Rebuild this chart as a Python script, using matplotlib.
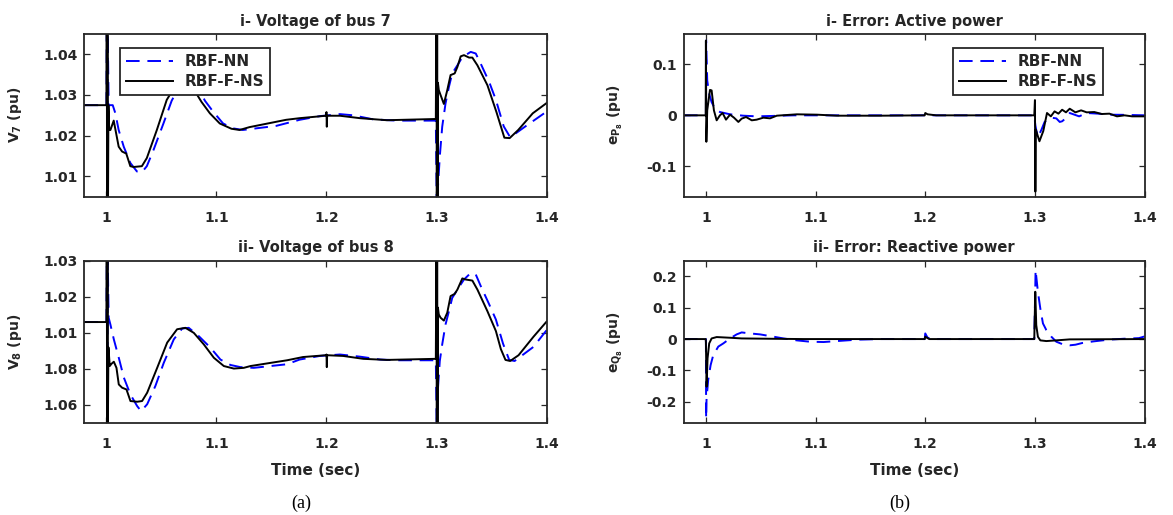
import numpy as np
import matplotlib
matplotlib.use('Agg')
import matplotlib.pyplot as plt

plt.rcParams['font.family'] = ['DejaVu Sans']
plt.rcParams['font.weight'] = 'bold'
plt.rcParams['mathtext.fontset'] = 'dejavusans'
plt.rcParams['mathtext.default'] = 'bf'

# ---- data ----
# Voltage of bus 7
t7_nn = [0.98, 1.0, 1.0004, 1.0008, 1.0012, 1.002, 1.0057, 1.0081, 1.0111, 1.0157, 1.0217, 1.0277,
         1.0322, 1.0367, 1.0428, 1.0518, 1.0593, 1.067, 1.075, 1.083, 1.0895, 1.097, 1.106, 1.115,
         1.124, 1.133, 1.1542, 1.1756, 1.1939, 1.2122, 1.2244, 1.2427, 1.264, 1.2994, 1.3003,
         1.3012, 1.303, 1.3052, 1.3082, 1.3113, 1.3143, 1.319, 1.3235, 1.3311, 1.3357, 1.3402,
         1.3479, 1.354, 1.3611, 1.367, 1.3809, 1.4]
v7_nn = [1.0275, 1.0275, 1.055, 1.0, 1.045, 1.0275, 1.0275, 1.0255, 1.0214, 1.0173, 1.0133, 1.0112,
         1.011, 1.0125, 1.0165, 1.023, 1.0286, 1.0325, 1.034, 1.032, 1.0286, 1.0259, 1.023, 1.0218,
         1.0214, 1.0217, 1.0224, 1.0239, 1.0248, 1.0253, 1.025, 1.024, 1.0237, 1.0237, 1.0,
         1.0068, 1.0149, 1.0222, 1.0279, 1.032, 1.0353, 1.0373, 1.0393, 1.0406, 1.0402, 1.0377,
         1.0332, 1.0288, 1.0223, 1.0196, 1.0223, 1.0259]
t7_fns = [0.98, 1.0, 1.0003, 1.0006, 1.0009, 1.0012, 1.0018, 1.0025, 1.0036, 1.0066, 1.0111, 1.0142,
          1.018, 1.0217, 1.0247, 1.0322, 1.0367, 1.0458, 1.0548, 1.062, 1.07, 1.078, 1.0864, 1.094,
          1.103, 1.1136, 1.121, 1.13, 1.1633, 1.1756, 1.1995, 1.2, 1.2003, 1.2006, 1.2122, 1.2305,
          1.2549, 1.2994, 1.3, 1.3003, 1.3006, 1.3009, 1.3013, 1.3021, 1.3037, 1.3067, 1.3098,
          1.3128, 1.3165, 1.319, 1.322, 1.325, 1.3296, 1.3326, 1.3372, 1.3463, 1.3545, 1.3617,
          1.3665, 1.3743, 1.3875, 1.4]
v7_fns = [1.0275, 1.0275, 1.06, 0.99, 1.05, 0.99, 1.0275, 1.0214, 1.0214, 1.0237, 1.0173, 1.0161,
          1.0156, 1.0125, 1.0123, 1.0125, 1.0145, 1.0214, 1.0288, 1.032, 1.0335, 1.032, 1.0283, 1.0255,
          1.023, 1.0217, 1.0214, 1.0221, 1.0239, 1.0243, 1.0249, 1.0258, 1.0222, 1.0249, 1.0249, 1.0243,
          1.0238, 1.0241, 1.06, 0.99, 1.05, 0.99, 1.033, 1.0312, 1.03, 1.0278, 1.0312,
          1.0349, 1.0353, 1.0369, 1.0395, 1.0398, 1.0392, 1.0392, 1.0373, 1.0324, 1.0258, 1.0195,
          1.0194, 1.0214, 1.0255, 1.028]

# Voltage of bus 8
t8_nn = [0.98, 1.0, 1.0004, 1.0008, 1.0012, 1.002, 1.0036, 1.0067, 1.0112, 1.0158, 1.0218, 1.0279,
         1.0315, 1.037, 1.0445, 1.0521, 1.0612, 1.0688, 1.0748, 1.0839, 1.0945, 1.1036, 1.1127,
         1.1218, 1.1339, 1.1642, 1.1756, 1.1939, 1.2122, 1.2305, 1.2488, 1.264, 1.2994, 1.3003,
         1.3012, 1.303, 1.3052, 1.3082, 1.3113, 1.3143, 1.319, 1.325, 1.3311, 1.3357, 1.3402,
         1.3479, 1.354, 1.3605, 1.3661, 1.371, 1.378, 1.3881, 1.4]
v8_nn = [1.013, 1.013, 1.035, 0.98, 1.03, 1.0142, 1.0123, 1.0082, 1.0031, 0.9976, 0.9929, 0.9897,
         0.9883, 0.9902, 0.9953, 1.0017, 1.0082, 1.0112, 1.0114, 1.0091, 1.0059, 1.0026, 1.0011,
         1.0005, 1.0003, 1.0013, 1.0026, 1.0036, 1.004, 1.0034, 1.0026, 1.0024, 1.0024, 0.98,
         0.994, 1.0022, 1.0068, 1.0123, 1.016, 1.0197, 1.022, 1.0248, 1.0266, 1.0262, 1.023,
         1.0179, 1.0137, 1.007, 1.0025, 1.0022, 1.0038, 1.0061, 1.0107]
t8_fns = [0.98, 1.0, 1.0003, 1.0006, 1.0009, 1.0012, 1.0018, 1.003, 1.0045, 1.0067, 1.0091, 1.0112,
          1.0142, 1.0182, 1.0218, 1.0279, 1.0324, 1.037, 1.0461, 1.0552, 1.0642, 1.0718, 1.0794,
          1.0885, 1.0976, 1.1067, 1.1158, 1.1248, 1.1309, 1.1642, 1.1787, 1.1995, 1.2, 1.2003,
          1.2006, 1.2152, 1.2335, 1.2549, 1.2994, 1.3, 1.3003, 1.3006, 1.3009, 1.3013, 1.3021,
          1.3037, 1.3067, 1.3098, 1.3128, 1.3165, 1.319, 1.3235, 1.3265, 1.3326, 1.3372, 1.3463,
          1.354, 1.3585, 1.3627, 1.367, 1.3746, 1.3881, 1.4]
v8_fns = [1.013, 1.013, 1.04, 0.98, 1.035, 0.98, 1.006, 1.0008, 1.0014, 1.002, 1.0003, 0.9957,
          0.9948, 0.9943, 0.9911, 0.9909, 0.9911, 0.9934, 1.0003, 1.0073, 1.011, 1.0114, 1.01,
          1.0068, 1.0031, 1.0008, 1.0001, 1.0003, 1.0008, 1.0024, 1.0033, 1.0038, 1.004, 1.0005,
          1.0038, 1.0036, 1.0028, 1.0025, 1.0028, 1.04, 0.98, 1.035, 0.98, 1.017, 1.0151,
          1.0142, 1.0134, 1.0156, 1.0202, 1.0208, 1.022, 1.0251, 1.0248, 1.0245, 1.022, 1.016,
          1.0105, 1.0055, 1.0025, 1.0022, 1.0038, 1.0089, 1.0131]

# Error: active power
tp_nn = [0.98, 1.0, 1.0002, 1.0012, 1.003, 1.0052, 1.0082, 1.0128, 1.022, 1.0341, 1.0463, 1.0585,
         1.08, 1.2994, 1.3004, 1.3012, 1.3027, 1.3058, 1.3088, 1.3119, 1.3149, 1.3195, 1.3226,
         1.3248, 1.3287, 1.3317, 1.3403, 1.3472, 1.3576, 1.3679, 1.38, 1.4]
ep_nn = [0.0, 0.0, 0.147, 0.0686, 0.042, 0.026, 0.013, 0.0065, 0.002, -0.0007, -0.002, -0.0013,
         0.0, 0.0, -0.02, -0.029, -0.0425, -0.029, -0.013, -0.0085, -0.0046, -0.006, -0.013,
         -0.0117, -0.0046, 0.0046, -0.002, 0.0046, 0.0033, 0.0013, 0.001, 0.0]
tp_fns = [0.98, 0.9998, 1.0, 1.0004, 1.0012, 1.0037, 1.0052, 1.0073, 1.0098, 1.0128, 1.0152, 1.0183,
          1.022, 1.0256, 1.0296, 1.0326, 1.0366, 1.0418, 1.0463, 1.0524, 1.0585, 1.0646, 1.083,
          1.1012, 1.1195, 1.159, 1.1995, 1.2, 1.2021, 1.21, 1.2994, 1.3, 1.3004, 1.3008, 1.3041,
          1.3076, 1.311, 1.3145, 1.3179, 1.3214, 1.3248, 1.3283, 1.3317, 1.3369, 1.3421, 1.3472,
          1.3541, 1.361, 1.3679, 1.3748, 1.3817, 1.3886, 1.4]
ep_fns = [0.0, 0.0, 0.147, -0.052, 0.0098, 0.05, 0.049, 0.0098, -0.0098, 0.0, 0.0046, -0.0085,
          0.0013, -0.0046, -0.013, -0.0065, -0.0033, -0.0098, -0.0085, -0.0046, -0.0059, -0.0007, 0.002,
          0.0013, -0.0007, -0.0007, 0.0, 0.0046, 0.002, 0.0, 0.0, 0.03, -0.15, -0.028, -0.051,
          -0.031, 0.0046, -0.002, 0.0078, 0.0033, 0.011, 0.0059, 0.013, 0.0059, 0.0098, 0.0059,
          0.0065, 0.0026, 0.0033, -0.002, 0.0, -0.002, -0.002]

# Error: reactive power
tq_nn = [0.98, 1.0, 1.0002, 1.0006, 1.0021, 1.0043, 1.0067, 1.0113, 1.0159, 1.022, 1.028, 1.0326,
         1.0402, 1.0494, 1.0585, 1.0707, 1.0829, 1.0951, 1.1073, 1.1195, 1.1378, 1.159, 1.1995,
         1.2, 1.2021, 1.21, 1.2994, 1.3006, 1.3027, 1.3049, 1.3073, 1.3104, 1.315, 1.3195, 1.3256,
         1.3317, 1.337, 1.3431, 1.3534, 1.3672, 1.381, 1.3948, 1.4]
eq_nn = [0.0, 0.0, -0.253, -0.189, -0.13, -0.083, -0.051, -0.024, -0.0138, 0.002, 0.0149, 0.0212,
         0.018, 0.0149, 0.0095, 0.002, -0.0042, -0.0085, -0.0095, -0.0064, -0.002, 0.0, 0.0,
         0.018, 0.0042, 0.0, 0.0, 0.22, 0.151, 0.0976, 0.05, 0.0286, 0.0074, -0.0085, -0.017,
         -0.02, -0.018, -0.0126, -0.0074, -0.002, 0.001, 0.003, 0.0084]
tq_fns = [0.98, 0.9998, 1.0, 1.0006, 1.0015, 1.003, 1.0052, 1.0098, 1.022, 1.0326, 1.0585, 1.089,
          1.1995, 1.2, 1.2036, 1.2994, 1.3003, 1.3012, 1.3027, 1.3049, 1.3104, 1.3195, 1.3317, 1.4]
eq_fns = [0.0, 0.0, -0.01, -0.152, -0.0615, -0.0138, 0.002, 0.0064, 0.0042, 0.002, 0.001, 0.0,
          0.0, 0.0074, 0.0, 0.0, 0.151, 0.0446, 0.0074, -0.0042, -0.0064, -0.0042, -0.001, 0.0]

x_ticks = [1.0, 1.1, 1.2, 1.3, 1.4]
x_labels = ['1', '1.1', '1.2', '1.3', '1.4']
v7_ticks = [1.01, 1.02, 1.03, 1.04]
v7_labels = ['1.01', '1.02', '1.03', '1.04']
v8_ticks = [0.99, 1.00, 1.01, 1.02, 1.03]
v8_labels = ['1.06', '1.08', '1.01', '1.02', '1.03']
ep_ticks = [-0.1, 0, 0.1]
ep_labels = ['-0.1', '0', '0.1']
eq_ticks = [-0.2, -0.1, 0, 0.1, 0.2]
eq_labels = ['-0.2', '-0.1', '0', '0.1', '0.2']

dark = '#262626'
fig = plt.figure(figsize=(11.73, 5.15), dpi=100)

ax1 = fig.add_axes([0.0720, 0.6181, 0.3939, 0.3159])
ax2 = fig.add_axes([0.0720, 0.1786, 0.3939, 0.3151])
ax3 = fig.add_axes([0.5831, 0.6181, 0.3927, 0.3159])
ax4 = fig.add_axes([0.5831, 0.1786, 0.3927, 0.3151])


def draw(ax, t_nn, y_nn, t_fns, y_fns):
    ax.plot(t_nn, y_nn, color='#0000ff', lw=1.4, dashes=(7, 4), label='RBF-NN')
    ax.plot(t_fns, y_fns, color='black', lw=1.4, label='RBF-F-NS')


draw(ax1, t7_nn, v7_nn, t7_fns, v7_fns)
draw(ax2, t8_nn, v8_nn, t8_fns, v8_fns)
draw(ax3, tp_nn, ep_nn, tp_fns, ep_fns)
draw(ax4, tq_nn, eq_nn, tq_fns, eq_fns)

ax1.set_ylim(1.005, 1.045)
ax2.set_ylim(0.985, 1.03)
ax3.set_ylim(-0.16, 0.16)
ax4.set_ylim(-0.268, 0.25)

ax1.set_yticks(v7_ticks, v7_labels)
ax2.set_yticks(v8_ticks, v8_labels)
ax3.set_yticks(ep_ticks, ep_labels)
ax4.set_yticks(eq_ticks, eq_labels)

titles = ['i- Voltage of bus 7', 'ii- Voltage of bus 8',
          'i- Error: Active power', 'ii- Error: Reactive power']
ylabels = [r'$V_7$ (pu)', r'$V_8$ (pu)', r'$e_{P_8}$ (pu)', r'$e_{Q_8}$ (pu)']
ylab_x = [-0.131, -0.131, -0.128, -0.128]

for ax, title, yl, yx in zip([ax1, ax2, ax3, ax4], titles, ylabels, ylab_x):
    ax.set_xlim(0.98, 1.4)
    ax.set_xticks(x_ticks, x_labels)
    ax.set_title(title, fontsize=10.5, fontweight='bold', pad=6, color=dark)
    ax.set_ylabel(yl, fontsize=10, fontweight='bold', color=dark)
    ax.yaxis.set_label_coords(yx, 0.5)
    ax.tick_params(direction='in', top=True, right=True, length=4, width=0.9,
                   colors=dark, labelsize=10)
    ax.tick_params(axis='x', pad=10)
    ax.tick_params(axis='y', pad=5)
    for lbl in ax.get_xticklabels() + ax.get_yticklabels():
        lbl.set_fontweight('bold')
    for sp in ax.spines.values():
        sp.set_color(dark)
        sp.set_linewidth(1.3)

ax2.set_xlabel('Time (sec)', fontsize=11, fontweight='bold', color=dark, labelpad=9)
ax4.set_xlabel('Time (sec)', fontsize=11, fontweight='bold', color=dark, labelpad=9)

leg_kw = dict(fontsize=11, frameon=True, fancybox=False, framealpha=1, edgecolor=dark,
              handlelength=3.05, handletextpad=0.76, labelspacing=0.3, borderpad=0.4,
              borderaxespad=0)
lg1 = ax1.legend(loc='upper left', bbox_to_anchor=(0.0775, 0.912), **leg_kw)
lg3 = ax3.legend(loc='upper right', bbox_to_anchor=(0.91, 0.912), **leg_kw)
for lg in (lg1, lg3):
    lg.get_frame().set_linewidth(1.3)
    for txt in lg.get_texts():
        txt.set_fontweight('bold')
        txt.set_color(dark)

fig.text(0.2566, 0.023, '(a)', ha='center', va='center', fontsize=13,
         family='Liberation Serif', fontweight='normal')
fig.text(0.767, 0.023, '(b)', ha='center', va='center', fontsize=13,
         family='Liberation Serif', fontweight='normal')

fig.savefig('out.png', dpi=100)
